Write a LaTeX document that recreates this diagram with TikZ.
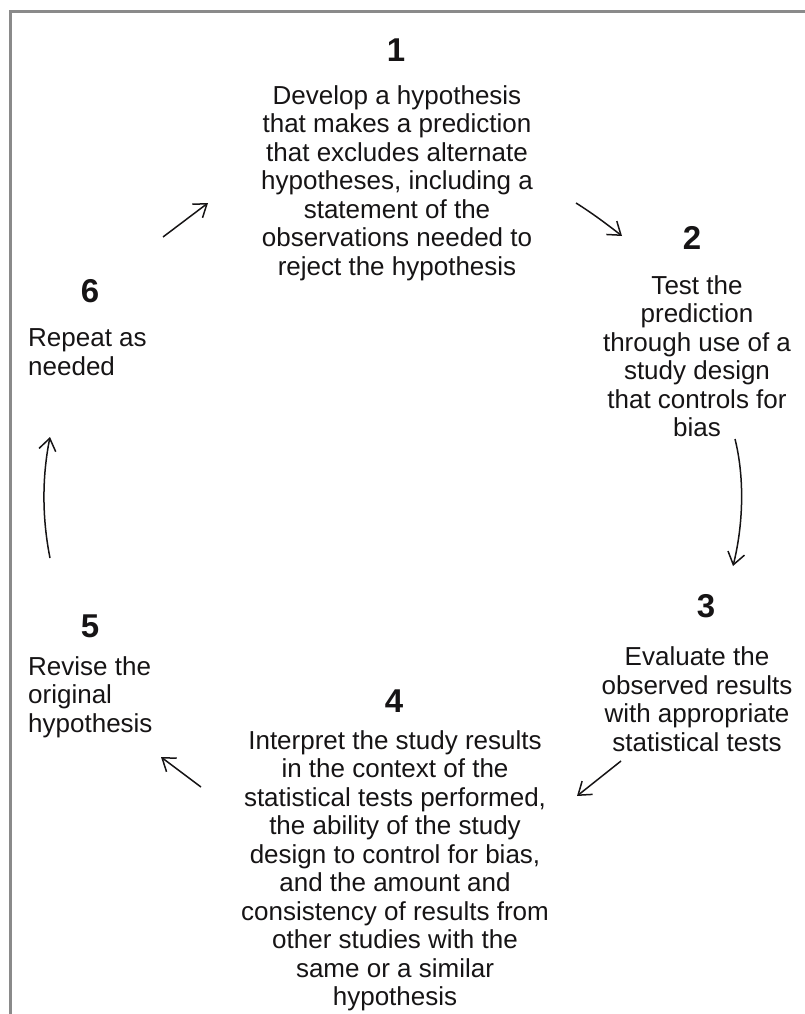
\documentclass[tikz,border=0pt]{standalone}
\usepackage{fontspec}
\setmainfont{Liberation Sans}
\usetikzlibrary{arrows.meta,calc}
\definecolor{ink}{HTML}{161415}
\definecolor{framegray}{HTML}{8A8A8A}
\begin{document}
\begin{tikzpicture}[x=1pt,y=-1pt,
  numlbl/.style={font=\fontsize{33}{35}\selectfont\bfseries, text=ink, inner sep=0pt},
  body/.style={font=\fontsize{26}{28.5}\selectfont, text=ink, inner sep=0pt, align=center},
  bodyl/.style={font=\fontsize{26}{28.5}\selectfont, text=ink, inner sep=0pt, align=left, anchor=west},
  cyc/.style={draw=ink, line width=1.5pt, -{Straight Barb[length=12pt,width=17pt]}}]
\useasboundingbox (0,0) rectangle (804,1014);
\draw[framegray, line width=3pt] (10,1016) -- (10,12) -- (806,12);
% numbers
\node[numlbl] (n1) at (396,50) {1};
\node[numlbl] (n2) at (692,238) {2};
\node[numlbl] (n3) at (706,606) {3};
\node[numlbl] (n4) at (394,701) {4};
\node[numlbl] (n5) at (90,626) {5};
\node[numlbl] (n6) at (90,291) {6};
% texts
\node[body] (t1) at (397,183) {Develop a hypothesis\\that makes a prediction\\that excludes alternate\\hypotheses, including a\\statement of the\\observations needed to\\reject the hypothesis};
\node[body] (t2) at (697,356) {Test the\\prediction\\through use of a\\study design\\that controls for\\bias};
\node[body] (t3) at (697,699) {Evaluate the\\observed results\\with appropriate\\statistical tests};
\node[body] (t4) at (395,871) {Interpret the study results\\in the context of the\\statistical tests performed,\\the ability of the study\\design to control for bias,\\and the amount and\\consistency of results from\\other studies with the\\same or a similar\\hypothesis};
\node[bodyl] (t5) at (28,697) {Revise the\\original\\hypothesis};
\node[bodyl] (t6) at (28,352) {Repeat as\\needed};
% arrow end points
\coordinate (a1s) at (163,237); \coordinate (a1e) at (208,203);
\coordinate (a2s) at (576,203); \coordinate (a2e) at (622,236);
\coordinate (a3s) at (735,439); \coordinate (a3e) at (733,566);
\coordinate (a4s) at (621,761); \coordinate (a4e) at (577,796);
\coordinate (a5s) at (201,787); \coordinate (a5e) at (161,757);
\coordinate (a6s) at (50,558);  \coordinate (a6e) at (50,437);
\draw[cyc] (a1s) -- (a1e);
\draw[cyc] (a2s) .. controls ($(a2s)+(16,10)$) and ($(a2e)+(-14,-11)$) .. (a2e);
\draw[cyc] (a3s) .. controls ($(a3s)+(10,40)$) and ($(a3e)+(10,-40)$) .. (a3e);
\draw[cyc] (a4s) -- (a4e);
\draw[cyc] (a5s) -- (a5e);
\draw[cyc] (a6s) .. controls ($(a6s)+(-8,-40)$) and ($(a6e)+(-8,40)$) .. (a6e);
\end{tikzpicture}
\end{document}
